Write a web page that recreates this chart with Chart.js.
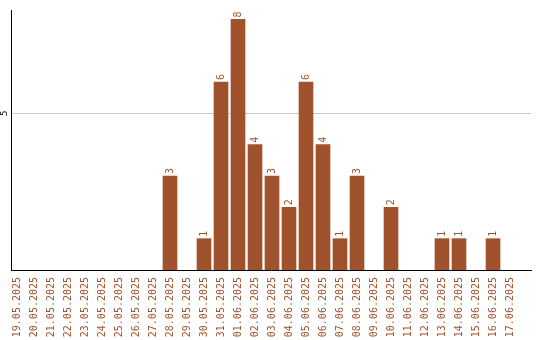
<!DOCTYPE html>
<html>
<head>
<meta charset="utf-8">
<script src="https://cdn.jsdelivr.net/npm/chart.js@4.4.1/dist/chart.umd.min.js"></script>
<style>
  html, body { margin: 0; padding: 0; background: #fff; }
  #wrap { width: 540px; height: 340px; }
</style>
</head>
<body>
<div id="wrap"><canvas id="myChart"></canvas></div>
<script>
const dates = ['19.05.2025', '20.05.2025', '21.05.2025', '22.05.2025', '23.05.2025',
    '24.05.2025', '25.05.2025', '26.05.2025', '27.05.2025', '28.05.2025',
    '29.05.2025', '30.05.2025', '31.05.2025', '01.06.2025', '02.06.2025',
    '03.06.2025', '04.06.2025', '05.06.2025', '06.06.2025', '07.06.2025',
    '08.06.2025', '09.06.2025', '10.06.2025', '11.06.2025', '12.06.2025',
    '13.06.2025', '14.06.2025', '15.06.2025', '16.06.2025', '17.06.2025'];
const visits = [0, 0, 0, 0, 0, 0, 0, 0, 0, 3,
    0, 1, 6, 8, 4, 3, 2, 6, 4, 1,
    3, 0, 2, 0, 0, 1, 1, 0, 1, 0];
const yTicks = [5];

const barColor = '#a0522d';
const monoFont = 'DejaVu Sans Mono';

// value labels above the bars, rotated like the reference
const valueLabels = {
    id: 'valueLabels',
    afterDatasetsDraw(chart) {
        const ctx = chart.ctx;
        const meta = chart.getDatasetMeta(0);
        ctx.save();
        ctx.fillStyle = barColor;
        ctx.font = '10px "' + monoFont + '"';
        ctx.textAlign = 'left';
        ctx.textBaseline = 'middle';
        meta.data.forEach((bar, i) => {
            const v = visits[i];
            if (!v) return;
            ctx.save();
            ctx.translate(bar.x, bar.y - 2);
            ctx.rotate(-Math.PI / 2);
            ctx.fillText(String(v), 0, 0);
            ctx.restore();
        });
        ctx.restore();
    }
};

// y tick labels, rotated
const yLabels = {
    id: 'yLabels',
    afterDraw(chart) {
        const ctx = chart.ctx;
        const y = chart.scales.y;
        ctx.save();
        ctx.fillStyle = '#000';
        ctx.font = '9px "' + monoFont + '"';
        ctx.textAlign = 'center';
        ctx.textBaseline = 'middle';
        yTicks.forEach(t => {
            ctx.save();
            ctx.translate(y.right - 6, y.getPixelForValue(t));
            ctx.rotate(-Math.PI / 2);
            ctx.fillText(String(t), 0, 0);
            ctx.restore();
        });
        ctx.restore();
    }
};

new Chart(document.getElementById('myChart'), {
    type: 'bar',
    data: {
        datasets: [{
            data: visits.map((v, i) => ({ x: i, y: v === 0 ? null : v })),
            backgroundColor: barColor,
            borderWidth: 0,
            barThickness: 14
        }]
    },
    options: {
        responsive: true,
        maintainAspectRatio: false,
        animation: false,
        layout: { padding: { top: 10, right: 9, left: 0, bottom: 0 } },
        plugins: {
            legend: { display: false },
            tooltip: { enabled: false }
        },
        scales: {
            x: {
                type: 'linear',
                offset: false,
                min: -0.353,
                max: 30.235,
                afterBuildTicks: s => { s.ticks = dates.map((d, i) => ({ value: i })); },
                afterFit: s => { s.height = 70; },
                grid: { display: false, drawTicks: false, offset: false },
                border: { color: '#000', width: 1 },
                ticks: {
                    autoSkip: false,
                    minRotation: 90,
                    maxRotation: 90,
                    padding: 7,
                    color: barColor,
                    font: { family: monoFont, size: 10 },
                    callback: v => dates[v]
                }
            },
            y: {
                min: 0,
                max: 8.3,
                afterBuildTicks: s => { s.ticks = yTicks.map(v => ({ value: v })); },
                afterFit: s => { s.width = 11; },
                grid: { color: '#c8c8c8', lineWidth: 1, drawTicks: false },
                border: { color: '#000', width: 1 },
                ticks: { display: false }
            }
        }
    },
    plugins: [valueLabels, yLabels]
});
</script>
</body>
</html>
